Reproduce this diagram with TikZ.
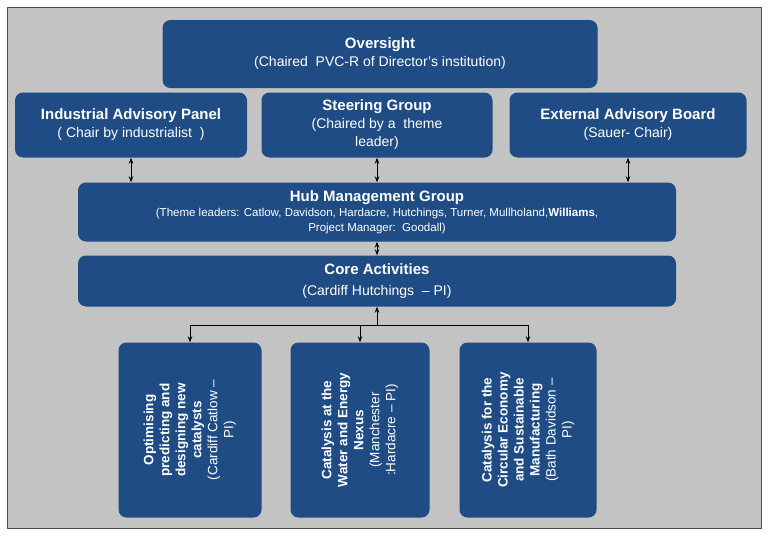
\documentclass[tikz,border=0pt]{standalone}
\usepackage{fontspec}
\setmainfont{Liberation Sans}
\usetikzlibrary{arrows.meta}
\definecolor{hubblue}{HTML}{1F4C84}
\definecolor{panelgray}{HTML}{C3C3C3}
\tikzset{
  unit/.style={draw=none, rounded corners=8pt, fill=hubblue, text=white, align=center, inner sep=2pt,
    font=\fontsize{14}{18}\selectfont},
  head/.style={font=\fontsize{15}{19}\selectfont\bfseries},
  link/.style={thick, {Stealth[length=6pt]}-{Stealth[length=6pt]}},
  feed/.style={thick, -{Stealth[length=6pt]}}
}
\begin{document}
\begin{tikzpicture}[x=1pt,y=-1pt]
    \useasboundingbox (0,0) rectangle (768,538);
    \draw[fill=panelgray, draw=black!70] (7,7) rectangle (761,528);

    % Governance layer
    \node[unit, minimum width=435pt, minimum height=68pt] (over) at (380,54)
      {\fontsize{15}{19}\selectfont\bfseries Oversight\\(Chaired\ \ PVC-R of Director’s institution)};
    \node[unit, minimum width=232pt, minimum height=65pt] (iap) at (131,125)
      {\fontsize{15}{19}\selectfont\bfseries Industrial Advisory Panel\\( Chair by industrialist\ \ )};
    \node[unit, minimum width=231pt, minimum height=65pt] (steer) at (377,125)
      {\fontsize{15}{19}\selectfont\bfseries Steering Group\\(Chaired by a\ \ theme\\leader)};
    \node[unit, minimum width=237pt, minimum height=65pt] (eab) at (628,125)
      {\fontsize{15}{19}\selectfont\bfseries External Advisory Board\\(Sauer- Chair)};

    % Hub and core
    \node[unit, minimum width=598pt, minimum height=59pt, font=\fontsize{11.5}{15}\selectfont] (hub) at (377,212)
      {\fontsize{15}{19}\selectfont\bfseries Hub Management Group\\
       (Theme leaders: Catlow, Davidson, Hardacre, Hutchings, Turner, Mullholand,\textbf{Williams},\\
       Project Manager:\ \ Goodall)};
    \node[unit, minimum width=598pt, minimum height=51pt, font=\fontsize{14}{21}\selectfont] (core) at (377,281)
      {\fontsize{15}{19}\selectfont\bfseries Core Activities\\(Cardiff Hutchings\ \ -- PI)};

    % Themes
    \node[unit, minimum width=175pt, minimum height=143pt, rotate=90, font=\fontsize{13.5}{16}\selectfont] (th1) at (190,430)
      {\bfseries Optimising\\\bfseries predicting and\\\bfseries designing new\\\bfseries catalysts\\(Cardiff Catlow --\\PI)};
    \node[unit, minimum width=175pt, minimum height=139pt, rotate=90, font=\fontsize{13.5}{16}\selectfont] (th2) at (360,430)
      {\bfseries Catalysis at the\\\bfseries Water and Energy\\\bfseries Nexus\\(Manchester\\:Hardacre -- PI)};
    \node[unit, minimum width=175pt, minimum height=137pt, rotate=90, font=\fontsize{13.5}{16}\selectfont] (th3) at (528,430)
      {\bfseries Catalysis for the\\\bfseries Circular Economy\\\bfseries and Sustainable\\\bfseries Manufacturing\\(Bath Davidson --\\PI)};

    % Connectors
    \draw[link] (iap.south) -- (iap.south |- hub.north);
    \draw[link] (steer.south) -- (steer.south |- hub.north);
    \draw[link] (eab.south) -- (eab.south |- hub.north);
    \draw[link] (hub.south) -- (core.north);
    \coordinate (bus) at (377,325);
    \draw[feed] (bus) -- (core.south);
    \draw[thick] (th1.east |- bus) -- (th3.east |- bus);
    \draw[feed] (th1.east |- bus) -- (th1.east);
    \draw[feed] (th2.east |- bus) -- (th2.east);
    \draw[feed] (th3.east |- bus) -- (th3.east);
\end{tikzpicture}
\end{document}
